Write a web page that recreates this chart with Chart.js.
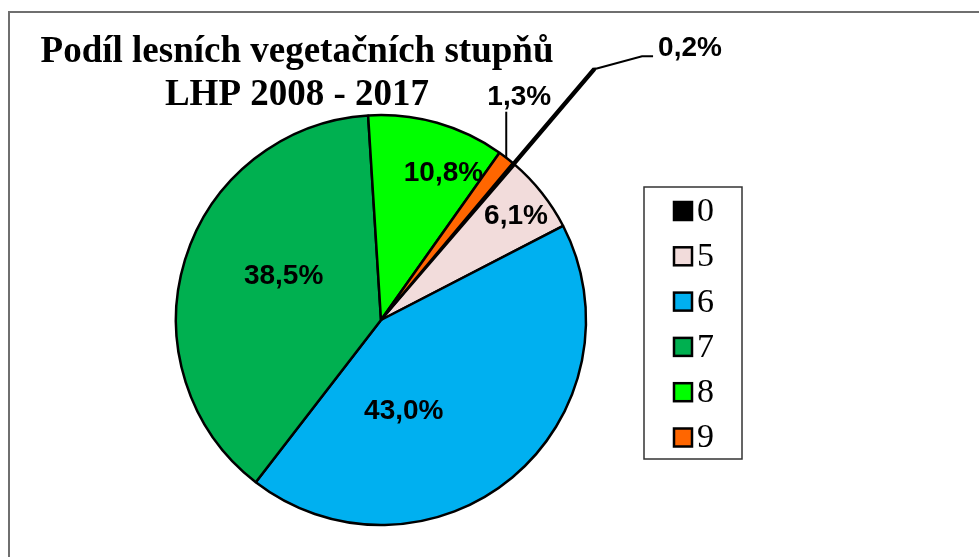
<!DOCTYPE html>
<html>
<head>
<meta charset="utf-8">
<script src="https://cdn.jsdelivr.net/npm/chart.js@4.4.0/dist/chart.umd.min.js"></script>
<style>
  html, body { margin: 0; padding: 0; background: #fff; }
  #wrap { width: 979px; height: 557px; position: relative; }
</style>
</head>
<body>
<div id="wrap"><canvas id="pie"></canvas></div>
<script>
const categories = ['0', '5', '6', '7', '8', '9'];
const shares = [0.2, 6.1, 43.0, 38.5, 10.8, 1.3];
const sliceColors = ['#000000', '#F2DCDB', '#00B0F0', '#00B050', '#00FF00', '#FF6600'];
const sliceOffsets = [250, 0, 0, 0, 0, 0];
const sliceBorders = [4.5, 2.5, 2.5, 2.5, 2.5, 2.5];
const titleLines = ['Podíl lesních vegetačních stupňů', 'LHP 2008 - 2017'];

function pctText(v) {
    return v.toFixed(1).replace('.', ',') + '%';
}

// where each value label goes: angle (deg, clockwise from top) and radius as part of the pie radius
const labelPlaces = [
    { leader: 'tip' },
    { a: 52.5, r: 0.83 },
    { a: 166, r: 0.46 },
    { a: 294, r: 0.52 },
    { a: 23, r: 0.78 },
    { leader: 'up' }
];

const framePlugin = {
    id: 'frame',
    beforeDraw(chart) {
        const ctx = chart.ctx;
        ctx.save();
        ctx.strokeStyle = '#6f6f6f';
        ctx.lineWidth = 2;
        ctx.strokeRect(9, 12, chart.width + 20, chart.height + 20);
        ctx.restore();
    }
};

const titlePlugin = {
    id: 'twoLineTitle',
    afterDraw(chart) {
        const ctx = chart.ctx;
        ctx.save();
        ctx.fillStyle = '#000';
        ctx.font = 'bold 37px "Liberation Serif", "Times New Roman", serif';
        ctx.textAlign = 'center';
        ctx.textBaseline = 'alphabetic';
        ctx.fillText(titleLines[0], 297, 62);
        ctx.fillText(titleLines[1], 297, 105);
        ctx.restore();
    }
};

const valueLabelPlugin = {
    id: 'valueLabels',
    afterDatasetsDraw(chart) {
        const ctx = chart.ctx;
        const meta = chart.getDatasetMeta(0);
        const first = meta.data[2];
        const cx = first.x, cy = first.y, R = first.outerRadius;
        ctx.save();
        ctx.fillStyle = '#000';
        ctx.strokeStyle = '#000';
        ctx.lineWidth = 2;
        ctx.font = 'bold 28px "Liberation Sans", Arial, sans-serif';
        ctx.textBaseline = 'middle';
        meta.data.forEach((arc, i) => {
            const place = labelPlaces[i];
            const text = pctText(shares[i]);
            const mid = (arc.startAngle + arc.endAngle) / 2;
            if (place.leader === 'up') {
                const ex = cx + Math.cos(mid) * R;
                const ey = cy + Math.sin(mid) * R;
                ctx.beginPath();
                ctx.moveTo(ex, ey);
                ctx.lineTo(ex, ey - 46);
                ctx.stroke();
                ctx.textAlign = 'center';
                ctx.fillText(text, ex + 13, ey - 60);
            } else if (place.leader === 'tip') {
                const shift = 124;
                const tx = cx + Math.cos(mid) * (R + shift);
                const ty = cy + Math.sin(mid) * (R + shift);
                ctx.beginPath();
                ctx.moveTo(tx, ty);
                ctx.lineTo(tx + 48, ty - 13);
                ctx.lineTo(tx + 59, ty - 13);
                ctx.stroke();
                ctx.textAlign = 'left';
                ctx.fillText(text, tx + 64, ty - 21);
            } else {
                const a = place.a * Math.PI / 180;
                ctx.textAlign = 'center';
                ctx.fillText(text, cx + Math.sin(a) * R * place.r, cy - Math.cos(a) * R * place.r);
            }
        });
        ctx.restore();
    }
};

const boxLegendPlugin = {
    id: 'boxLegend',
    afterDraw(chart) {
        const ctx = chart.ctx;
        const left = 644, top = 187, w = 98, h = 272, step = 45.3, firstY = 211;
        ctx.save();
        ctx.strokeStyle = '#333';
        ctx.lineWidth = 1.5;
        ctx.strokeRect(left, top, w, h);
        ctx.font = '34px "Liberation Serif", "Times New Roman", serif';
        ctx.textBaseline = 'middle';
        ctx.textAlign = 'left';
        categories.forEach((c, i) => {
            const y = firstY + i * step;
            ctx.fillStyle = sliceColors[i];
            ctx.fillRect(674, y - 9, 18, 18);
            ctx.lineWidth = 2.5;
            ctx.strokeStyle = '#000';
            ctx.strokeRect(674, y - 9, 18, 18);
            ctx.fillStyle = '#000';
            ctx.fillText(c, 697, y + 1);
        });
        ctx.restore();
    }
};

new Chart(document.getElementById('pie'), {
    type: 'pie',
    data: {
        labels: categories,
        datasets: [{
            data: shares,
            backgroundColor: sliceColors,
            borderColor: '#000',
            borderWidth: sliceBorders,
            offset: sliceOffsets,
            clip: false
        }]
    },
    options: {
        responsive: true,
        maintainAspectRatio: false,
        animation: false,
        rotation: 40,
        radius: 205,
        layout: { padding: { left: 150, right: 367, top: 100, bottom: 17 } },
        plugins: {
            legend: { display: false },
            tooltip: { enabled: false },
            title: { display: false }
        }
    },
    plugins: [framePlugin, titlePlugin, valueLabelPlugin, boxLegendPlugin]
});
</script>
</body>
</html>
